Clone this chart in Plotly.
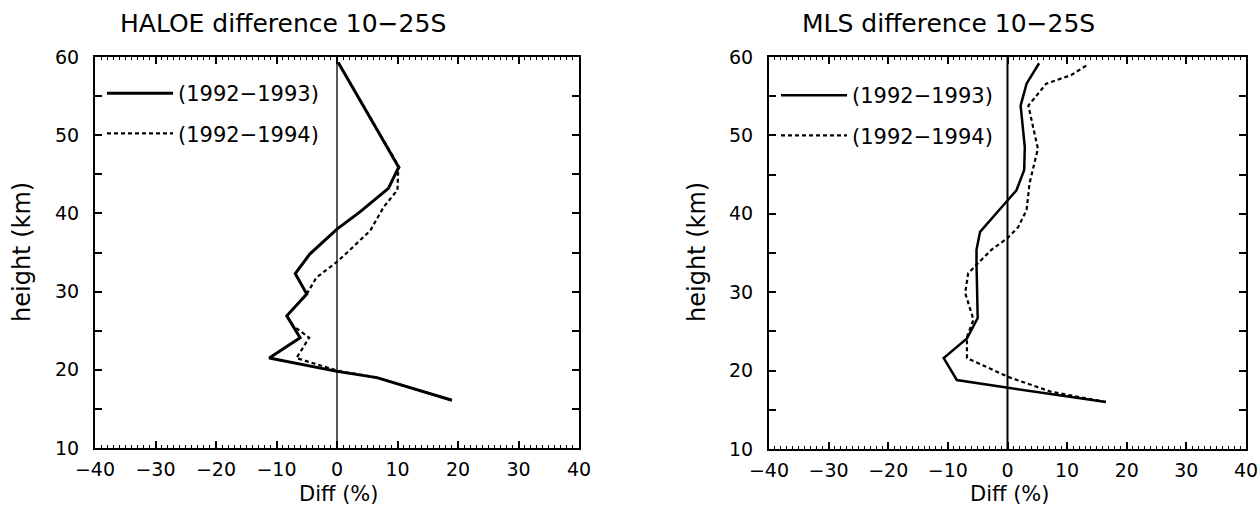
import plotly.graph_objects as go

# ---------------- data ----------------
x_range = [-40, 40]
y_range = [10, 60]

series_names = ["(1992\u22121993)", "(1992\u22121994)"]

# HALOE difference 10-25S
haloe_9293_diff = [0.2, 10.2, 8.5, 3.8, 0.0, -4.5, -6.9, -5.0, -8.3, -6.1, -11.2, 0.0, 6.6, 19.0]
haloe_9293_height = [59.3, 45.9, 43.2, 40.2, 38.0, 34.8, 32.3, 29.7, 26.9, 24.1, 21.5, 19.8, 19.0, 16.1]

haloe_9294_diff = [0.2, 10.3, 10.1, 10.0, 7.7, 5.5, 2.1, 0.0, -3.4, -5.0, -8.3, -7.2, -4.6, -6.7, 0.0, 6.6, 19.0]
haloe_9294_height = [59.3, 45.9, 45.3, 43.0, 40.8, 37.8, 35.3, 33.8, 31.8, 29.7, 26.9, 25.6, 24.1, 21.5, 19.9, 19.0, 16.1]

# MLS difference 10-25S
mls_9293_diff = [5.3, 3.2, 2.2, 2.9, 2.8, 1.5, 0.0, -4.6, -5.2, -5.2, -5.0, -6.8, -10.7, -8.5, 0.1, 12.9, 16.5]
mls_9293_height = [59.2, 56.6, 53.8, 48.5, 45.6, 43.0, 41.7, 37.7, 35.4, 33.7, 26.7, 24.1, 21.6, 18.8, 17.8, 16.4, 16.0]

mls_9294_diff = [13.2, 10.7, 6.5, 3.5, 5.1, 3.7, 3.2, 1.8, 0.0, -2.7, -5.2, -6.6, -7.1, -5.7, -6.8, -6.8, 0.1, 7.3, 16.5]
mls_9294_height = [58.9, 57.7, 56.6, 53.8, 48.3, 43.9, 40.5, 38.3, 36.9, 35.4, 33.5, 32.4, 29.9, 26.5, 24.3, 21.6, 19.2, 17.3, 16.0]

panel_titles = ["HALOE difference 10\u221225S", "MLS difference 10\u221225S"]
x_title = "Diff (%)"
y_title = "height (km)"

# ---------------- figure ----------------
W, H = 1260, 508
FONT = "DejaVu Sans"
solid = dict(color="black", width=3)
dashed = dict(color="black", width=2.2, dash="4px,3px")

fig = go.Figure()
fig.add_trace(go.Scatter(x=haloe_9293_diff, y=haloe_9293_height, mode="lines", name=series_names[0],
                         line=solid, xaxis="x", yaxis="y", legend="legend", legendgroup="a"))
fig.add_trace(go.Scatter(x=haloe_9294_diff, y=haloe_9294_height, mode="lines", name=series_names[1],
                         line=dashed, xaxis="x", yaxis="y", legend="legend", legendgroup="b"))
fig.add_trace(go.Scatter(x=mls_9293_diff, y=mls_9293_height, mode="lines", name=series_names[0],
                         line=dict(color="black", width=2.5), xaxis="x2", yaxis="y2", legend="legend2", legendgroup="c"))
fig.add_trace(go.Scatter(x=mls_9294_diff, y=mls_9294_height, mode="lines", name=series_names[1],
                         line=dashed, xaxis="x2", yaxis="y2", legend="legend2", legendgroup="d"))

tickfont = dict(family=FONT, size=19, color="black")


def xax(domain, anchor):
    return dict(domain=domain, anchor=anchor, range=x_range, tickmode="linear", tick0=0, dtick=10,
                ticks="inside", ticklen=7, tickwidth=1.5, tickcolor="black",
                minor=dict(dtick=1, ticks="inside", ticklen=3, tickwidth=1, tickcolor="black"),
                showline=True, linewidth=2, linecolor="black", mirror="allticks",
                showgrid=False, zeroline=False, tickfont=tickfont, ticklabelstandoff=3,
                ticklabeloverflow="allow", automargin=False, fixedrange=True)


def yax(domain, anchor):
    return dict(domain=domain, anchor=anchor, range=y_range, tickmode="linear", tick0=0, dtick=10,
                ticks="inside", ticklen=7, tickwidth=1.5, tickcolor="black",
                minor=dict(dtick=5, ticks="inside", ticklen=7, tickwidth=1.5, tickcolor="black"),
                showline=True, linewidth=2, linecolor="black", mirror="allticks",
                showgrid=False, zeroline=False, tickfont=tickfont, ticklabelstandoff=10,
                ticklabeloverflow="allow", automargin=False, fixedrange=True)


xd1 = [95 / W, 579 / W]
xd2 = [769 / W, 1246 / W]
yd1 = [1 - 448 / H, 1 - 57 / H]
yd2 = [1 - 449 / H, 1 - 57 / H]

legend_common = dict(font=dict(family=FONT, size=21, color="black"), bgcolor="rgba(0,0,0,0)",
                     borderwidth=0, itemwidth=66, tracegroupgap=10, xanchor="left", yanchor="top",
                     itemclick=False, itemdoubleclick=False)

fig.update_layout(
    width=W, height=H, autosize=False,
    margin=dict(l=0, r=0, t=0, b=0),
    paper_bgcolor="white", plot_bgcolor="white",
    font=dict(family=FONT, color="black"),
    xaxis=xax(xd1, "y"), yaxis=yax(yd1, "x"),
    xaxis2=xax(xd2, "y2"), yaxis2=yax(yd2, "x2"),
    legend=dict(x=102 / W, y=1 - 73 / H, **legend_common),
    legend2=dict(x=776 / W, y=1 - 75 / H, **legend_common),
    showlegend=True,
    shapes=[
        dict(type="line", xref="x", yref="y domain", x0=0, x1=0, y0=0, y1=1,
             line=dict(color="black", width=1.3)),
        dict(type="line", xref="x2", yref="y2 domain", x0=0, x1=0, y0=0, y1=1,
             line=dict(color="black", width=2)),
    ],
)

ann = []
for title, xc in [(panel_titles[0], 283), (panel_titles[1], 948)]:
    ann.append(dict(text=title, xref="paper", yref="paper", x=xc / W, y=1 - 23 / H,
                    xanchor="center", yanchor="middle", showarrow=False,
                    font=dict(family=FONT, size=25, color="black")))
for xc in [339, 1010]:
    ann.append(dict(text=x_title, xref="paper", yref="paper", x=xc / W, y=1 - 507 / H,
                    xanchor="center", yanchor="bottom", showarrow=False, borderpad=0,
                    font=dict(family=FONT, size=21, color="black")))
for xc in [22, 697]:
    ann.append(dict(text=y_title, xref="paper", yref="paper", x=xc / W, y=1 - 252 / H,
                    xanchor="center", yanchor="middle", showarrow=False, textangle=-90,
                    font=dict(family=FONT, size=24, color="black")))
fig.update_layout(annotations=ann)

fig.write_html("out.html")
